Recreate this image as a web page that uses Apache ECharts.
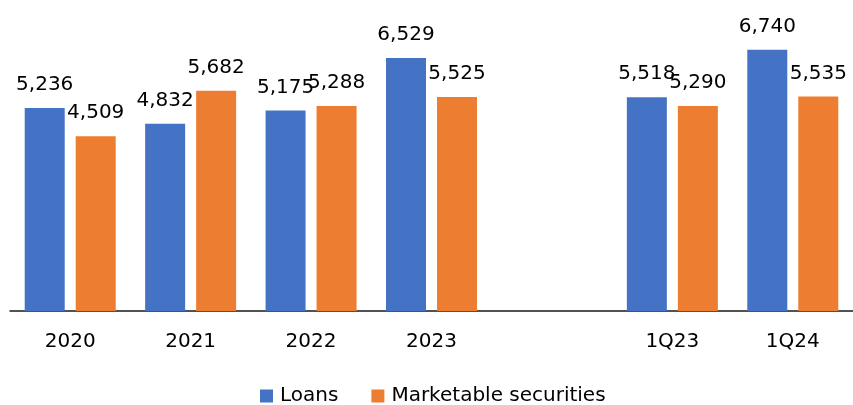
<!DOCTYPE html>
<html>
<head>
<meta charset="utf-8">
<script src="https://cdn.jsdelivr.net/npm/echarts@6/dist/echarts.min.js"></script>
<style>
  html, body { margin: 0; padding: 0; background: #fff; }
  #chart { width: 853px; height: 405px; }
</style>
</head>
<body>
<div id="chart"></div>
<script>
// Periods on the category axis; the empty entry leaves a gap between years and quarters
const categories = ['2020', '2021', '2022', '2023', '', '1Q23', '1Q24'];
const loans = [5236, 4832, 5175, 6529, null, 5518, 6740];
const securities = [4509, 5682, 5288, 5525, null, 5290, 5535];
const seriesNames = ['Loans', 'Marketable securities'];

const FONT = '"DejaVu Sans", sans-serif';
const chart = echarts.init(document.getElementById('chart'), null, { renderer: 'canvas' });

const labelStyle = {
  show: true,
  position: 'top',
  distance: 13,
  color: '#000',
  fontSize: 20,
  fontFamily: FONT,
  formatter: p => p.value == null ? '' : p.value.toLocaleString('en-US')
};

chart.setOption({
  animation: false,
  grid: { left: 10, width: 845, top: 1, bottom: 94 },
  legend: {
    data: seriesNames,
    left: 255,
    top: 381,
    itemWidth: 13,
    itemHeight: 13,
    itemGap: 33,
    icon: 'rect',
    textStyle: { color: '#000', fontSize: 20, fontFamily: FONT, padding: [0, 0, 0, 2] }
  },
  xAxis: {
    type: 'category',
    data: categories,
    axisLine: { lineStyle: { color: '#1a1a1a', width: 1.5 } },
    axisTick: { show: false },
    axisLabel: { color: '#000', fontSize: 20, fontFamily: FONT, margin: 21 }
  },
  yAxis: {
    type: 'value',
    min: 0,
    max: 8000,
    show: false,
    splitLine: { show: false }
  },
  series: [
    {
      name: seriesNames[0],
      type: 'bar',
      data: loans,
      barWidth: 40,
      barGap: '27.5%',
      itemStyle: { color: '#4472C4' },
      label: labelStyle
    },
    {
      name: seriesNames[1],
      type: 'bar',
      data: securities,
      barWidth: 40,
      itemStyle: { color: '#ED7D31' },
      label: labelStyle
    }
  ]
});
</script>
</body>
</html>
